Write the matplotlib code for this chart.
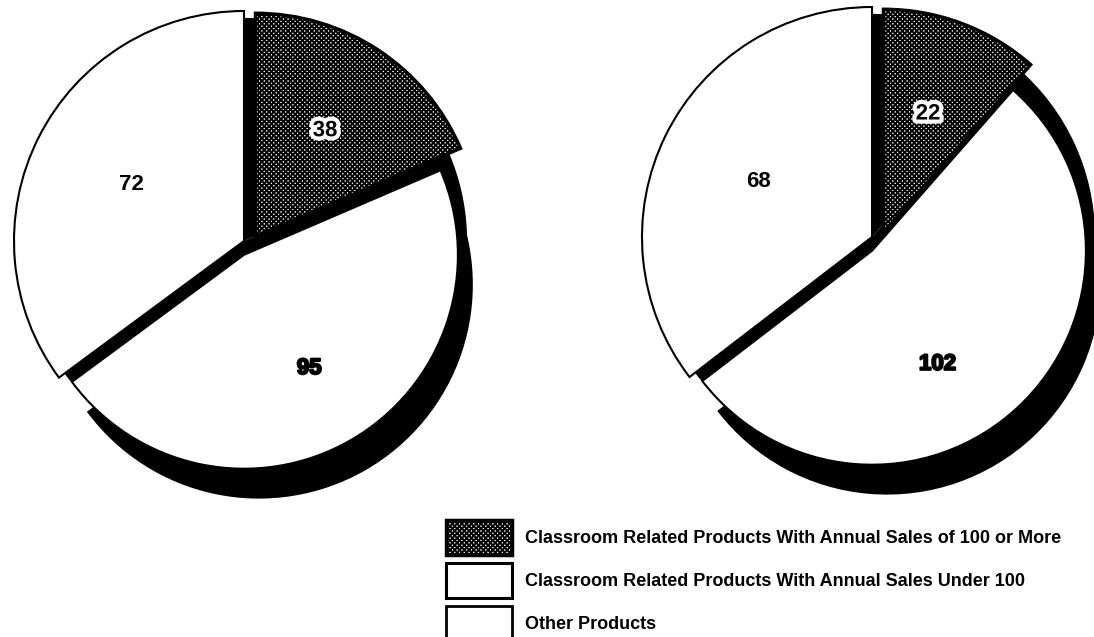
import matplotlib
matplotlib.use("Agg")
import numpy as np
import matplotlib.pyplot as plt
import matplotlib.patheffects as pe
from matplotlib.patches import Patch

plt.rcParams['font.family'] = ['Liberation Sans', 'DejaVu Sans']
plt.rcParams['hatch.linewidth'] = 1.4

categories = ['Classroom Related Products With Annual Sales of 100 or More',
              'Classroom Related Products With Annual Sales Under 100',
              'Other Products']
left_counts = [38, 95, 72]
right_counts = [22, 102, 68]

# slice styling (same order as categories)
hatches = ['xxxxxxx', None, None]
radii = [0.97, 0.93, 1.0]
shifts = [(0.05, 0.02), (0.0, -0.06), (0.0, 0.0)]
label_dist = [0.55, 0.57, 0.55]
shadow_shift = (0.065, -0.13)

W, H = 1094, 637
R_PX = 230
LIM = 1.3

fig = plt.figure(figsize=(W / 100, H / 100), dpi=100)


def pie_axes(cx, cy):
    side = 2 * LIM * R_PX
    return fig.add_axes([(cx - side / 2) / W, (H - cy - side / 2) / H, side / W, side / H])


def draw_pie(ax, counts):
    # black underlay shows through the gaps between the pulled-apart slices
    base, _ = ax.pie(counts, startangle=90, counterclock=False, radius=0.97,
                     colors=['black'] * 3, wedgeprops=dict(linewidth=0))
    for w in base:
        w.set_zorder(1)

    # drop shadow under the big slice
    shadow, _ = ax.pie(counts, startangle=90, counterclock=False, radius=radii[1],
                       colors=['black'] * 3, wedgeprops=dict(linewidth=0))
    for i, w in enumerate(shadow):
        if i != 1:
            w.set_visible(False)
        w.set_center((shifts[1][0] + shadow_shift[0], shifts[1][1] + shadow_shift[1]))
        w.set_zorder(1)

    wedges, _ = ax.pie(counts, startangle=90, counterclock=False,
                       colors=['white'] * 3, hatch=hatches,
                       wedgeprops=dict(edgecolor='black', linewidth=1.5))
    for i, w in enumerate(wedges):
        w.set_radius(radii[i])
        w.set_center(shifts[i])
        w.set_zorder(2)
        if i == 0:
            w.set_linewidth(2.5)
        mid = (w.theta1 + w.theta2) / 2
        if i == 1:
            # big slice: keep the number in its lower half
            mid = min(mid, -60)
        mid = np.deg2rad(mid)
        x = shifts[i][0] + label_dist[i] * np.cos(mid)
        y = shifts[i][1] + label_dist[i] * np.sin(mid)
        t = ax.text(x, y, str(counts[i]), ha='center', va='center',
                    fontsize=16, fontweight='bold', color='black', zorder=3)
        if i == 0:
            t.set_path_effects([pe.withStroke(linewidth=6, foreground='white')])
        elif i == 1:
            t.set_path_effects([pe.withStroke(linewidth=1.5, foreground='black')])

    ax.set_xlim(-LIM, LIM)
    ax.set_ylim(-LIM, LIM)
    ax.set_aspect('equal')
    ax.axis('off')


draw_pie(pie_axes(244, 241), left_counts)
draw_pie(pie_axes(872, 237), right_counts)

handles = [Patch(facecolor='white', edgecolor='black', hatch='xxxxxxx', linewidth=2.5),
           Patch(facecolor='white', edgecolor='black', linewidth=2.2),
           Patch(facecolor='white', edgecolor='black', linewidth=2.0)]
fig.legend(handles, categories, loc='upper left',
           bbox_to_anchor=(446 / W, 1 - 520 / H), frameon=False,
           prop=dict(weight='bold', size=13), handlelength=3.65, handleheight=2.6,
           labelspacing=0.45, handletextpad=0.75, borderpad=0, borderaxespad=0)

fig.savefig('out.png', dpi=100)
